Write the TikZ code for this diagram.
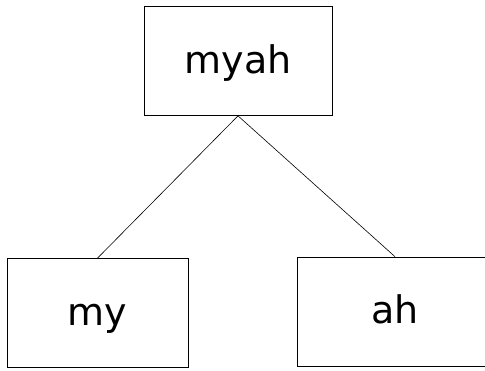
\documentclass[tikz,border=0pt]{standalone}
\usepackage{fontspec}
\setmainfont{DejaVu Sans}

\begin{document}
\begin{tikzpicture}[x=1pt, y=-1pt,
      every node/.style={font=\fontsize{38}{44}\selectfont},
      wordbox/.style={draw, line width=0.7pt, fill=white, align=center,
        text height=31pt, text depth=7pt, minimum height=109pt}]
    \useasboundingbox (0,0) rectangle (485,370);
    \clip (0,0) rectangle (485,370);
    \node[wordbox, minimum width=188pt] (MYAH) at (238,61) {myah};
    \node[wordbox, minimum width=181pt] (MY) at (97.5,313) {my};
    \node[wordbox, minimum width=196pt] (AH) at (395,311.5) {ah};
    \draw[line width=0.6pt] (MYAH.south) -- (MY.north);
    \draw[line width=0.6pt] (MYAH.south) -- (AH.north);
  \end{tikzpicture}
\end{document}
